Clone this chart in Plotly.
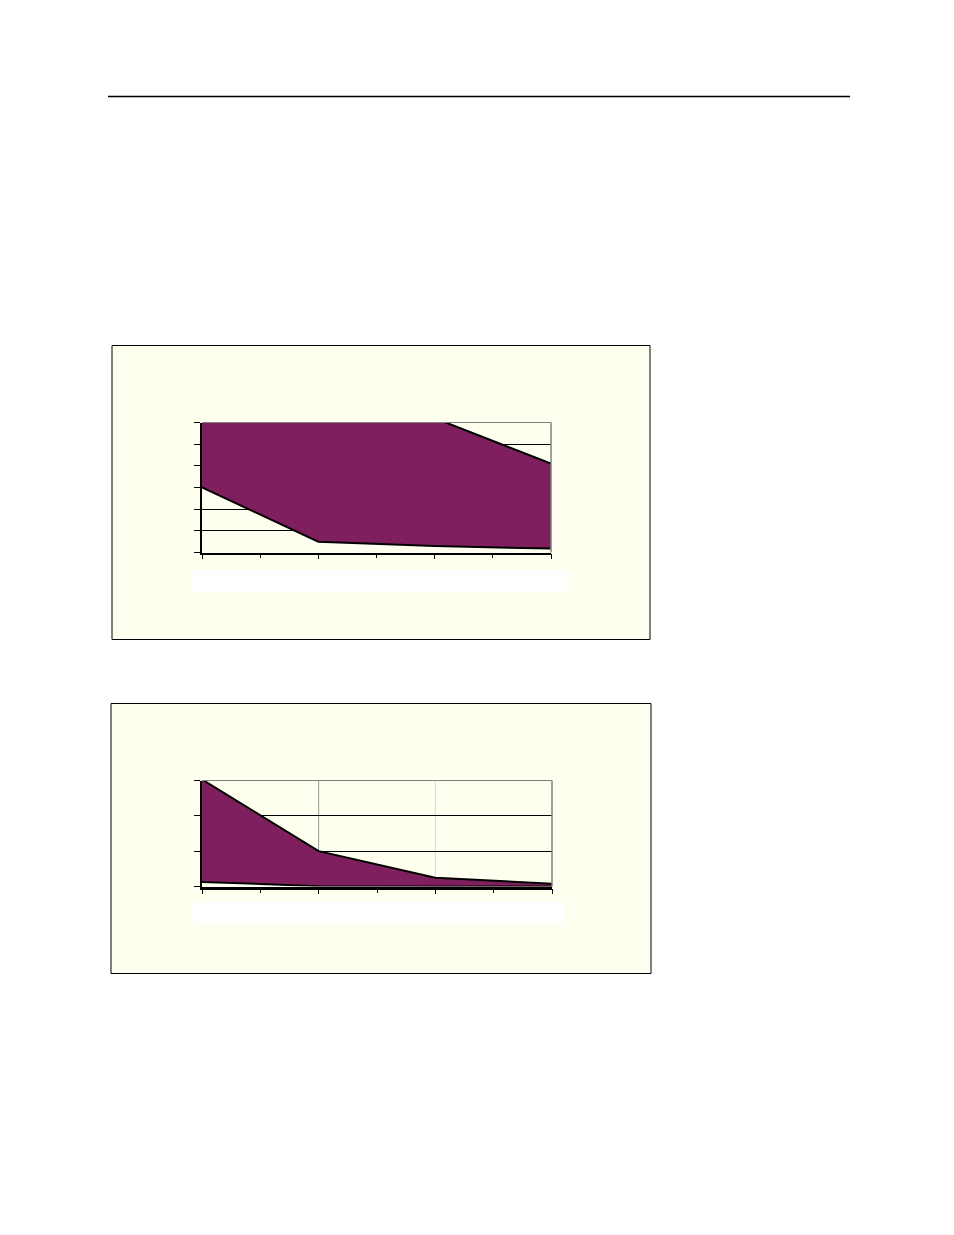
import plotly.graph_objects as go

# page size in px; the html body adds an 8px margin, so the figure is a bit smaller
W, H = 954, 1235
OFF = 8
FW, FH = W - 2 * OFF, H - 2 * OFF

# categories (4 points on the x axis, no labels shown)
categories = [0, 1, 2, 3]

# chart 1: lower and upper bounds of the band
chart1_lower = [3.0, 0.5, 0.3, 0.18]
chart1_upper = [8.0, 7.5, 6.2, 4.1]

# chart 2: lower and upper bounds of the band
chart2_lower = [0.13, 0.01, 0.0, 0.0]
chart2_upper = [3.03, 1.0, 0.25, 0.08]

y1_ticks = [0, 1, 2, 3, 4, 5, 6]
y2_ticks = [0, 1, 2, 3]

PURPLE = '#801F5E'
CREAM = '#FFFFF0'


def px_x(v):
    return (v - OFF) / FW


def px_y(v):
    return 1 - (v - OFF + 0.5) / FH


fig = go.Figure()

# chart 1 traces
fig.add_trace(go.Scatter(x=categories, y=chart1_lower, mode='lines',
                         line=dict(color='black', width=2),
                         xaxis='x', yaxis='y', showlegend=False, hoverinfo='skip'))
fig.add_trace(go.Scatter(x=categories, y=chart1_upper, mode='lines',
                         line=dict(color='black', width=2),
                         fill='tonexty', fillcolor=PURPLE,
                         xaxis='x', yaxis='y', showlegend=False, hoverinfo='skip'))

# chart 2 traces
fig.add_trace(go.Scatter(x=categories, y=chart2_lower, mode='lines',
                         line=dict(color='black', width=2),
                         xaxis='x2', yaxis='y2', showlegend=False, hoverinfo='skip'))
fig.add_trace(go.Scatter(x=categories, y=chart2_upper, mode='lines',
                         line=dict(color='black', width=2),
                         fill='tonexty', fillcolor=PURPLE,
                         xaxis='x2', yaxis='y2', showlegend=False, hoverinfo='skip'))


def x_axis(domain, anchor, line_width):
    return dict(
        domain=domain, anchor=anchor, range=[0, 3],
        showgrid=False, zeroline=False,
        showline=True, linecolor='black', linewidth=line_width,
        tickvals=categories, ticks='outside', ticklen=5, tickwidth=1.2, tickcolor='black',
        showticklabels=False,
        minor=dict(tick0=0, dtick=0.5, ticks='outside', ticklen=4, tickcolor='black', showgrid=False),
    )


def x_inside(overlay, anchor):
    # upper half of the major ticks (Excel draws them across the axis)
    return dict(
        overlaying=overlay, anchor=anchor, range=[0, 3],
        showgrid=False, zeroline=False, showline=False,
        tickvals=categories, ticks='inside', ticklen=5, tickwidth=1.2, tickcolor='black',
        showticklabels=False,
    )


def y_axis(domain, anchor, top, ticks):
    return dict(
        domain=domain, anchor=anchor, range=[0, top],
        showgrid=True, gridcolor='black', gridwidth=1, zeroline=False,
        showline=True, linecolor='black', linewidth=1.5,
        tickvals=ticks, ticks='outside', ticklen=6, tickwidth=1, tickcolor='black',
        showticklabels=False,
    )


fig.update_layout(
    width=FW, height=FH, autosize=False,
    margin=dict(l=0, r=0, t=0, b=0),
    paper_bgcolor='white',
    plot_bgcolor=CREAM,
    xaxis=x_axis([px_x(202), px_x(551)], 'y', 1.5),
    yaxis=y_axis([px_y(552), px_y(422)], 'x', 6, y1_ticks),
    xaxis2=x_axis([px_x(202), px_x(552)], 'y2', 2.5),
    yaxis2=y_axis([px_y(886), px_y(780)], 'x2', 3, y2_ticks),
    xaxis3=x_inside('x', 'y'),
    xaxis4=x_inside('x2', 'y2'),
)

shapes = [
    # rule at the top of the page
    dict(type='line', xref='paper', yref='paper',
         x0=px_x(108), x1=px_x(850), y0=px_y(96), y1=px_y(96),
         line=dict(color='black', width=1.3)),
    # chart frames
    dict(type='rect', xref='paper', yref='paper', layer='below',
         x0=px_x(112), x1=px_x(650), y0=px_y(639), y1=px_y(345),
         fillcolor=CREAM, line=dict(color='black', width=1)),
    dict(type='rect', xref='paper', yref='paper', layer='below',
         x0=px_x(111), x1=px_x(651), y0=px_y(973), y1=px_y(703),
         fillcolor=CREAM, line=dict(color='black', width=1)),
    # white boxes under the x axes
    dict(type='rect', xref='paper', yref='paper',
         x0=px_x(192), x1=px_x(569), y0=px_y(591), y1=px_y(570),
         fillcolor='white', line=dict(width=0)),
    dict(type='rect', xref='paper', yref='paper',
         x0=px_x(193), x1=px_x(565), y0=px_y(924), y1=px_y(901),
         fillcolor='white', line=dict(width=0)),
]

# grey plot-area border (top and right) for both charts
for xr, yr in [('x', 'y'), ('x2', 'y2')]:
    shapes.append(dict(type='line', xref=f'{xr} domain', yref=f'{yr} domain',
                       x0=0, x1=1, y0=1, y1=1, line=dict(color='#808080', width=1.2)))
    shapes.append(dict(type='line', xref=f'{xr} domain', yref=f'{yr} domain',
                       x0=1, x1=1, y0=0, y1=1, line=dict(color='#808080', width=1.5)))

# vertical gridlines in chart 2 (one grey, one light grey)
shapes.append(dict(type='line', xref='x2', yref='y2 domain', layer='below',
                   x0=categories[1], x1=categories[1], y0=0, y1=1,
                   line=dict(color='#999999', width=1)))
shapes.append(dict(type='line', xref='x2', yref='y2 domain', layer='below',
                   x0=categories[2], x1=categories[2], y0=0, y1=1,
                   line=dict(color='#D8D8D8', width=1)))

fig.update_layout(shapes=shapes)

fig.write_html("out.html")
